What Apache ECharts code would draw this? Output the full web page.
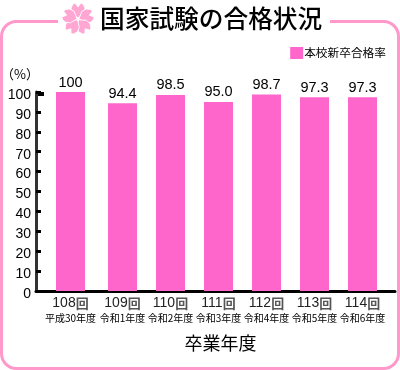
<!DOCTYPE html>
<html>
<head>
<meta charset="utf-8">
<script src="https://cdn.jsdelivr.net/npm/echarts@6/dist/echarts.min.js"></script>
<style>
html, body { margin: 0; padding: 0; background: #fff; }
#main { width: 400px; height: 370px; }
</style>
</head>
<body>
<div id="main"></div>
<script>
var years = [108, 109, 110, 111, 112, 113, 114];
var eraLabels = ['平成30年度', '令和1年度', '令和2年度', '令和3年度', '令和4年度', '令和5年度', '令和6年度'];
var passRates = [100, 94.4, 98.5, 95.0, 98.7, 97.3, 97.3];
var rateLabels = ['100', '94.4', '98.5', '95.0', '98.7', '97.3', '97.3'];
var yTicks = [0, 10, 20, 30, 40, 50, 60, 70, 80, 90, 100];

var PINK = '#ff66cc';
var FRAME = '#ff99cc';
var JP = '"Noto Sans CJK JP", sans-serif';
var LATIN = '"Liberation Sans", Arial, sans-serif';

// the first bar sits a little left of the even spacing in the original
var xPos = years.map(function (y, i) { return i === 0 ? y - 0.083 : y; });

// one petal of the blossom, drawn upright around 0,0
var petal = [[0, -1], [-6, -6], [-7, -11], [-5, -15], [-3, -16], [0, -12], [3, -16], [5, -15], [7, -11], [6, -6]];
var blossom = [0, 72, 144, 216, 288].map(function (deg) {
  return {
    type: 'polygon',
    x: 78, y: 19,
    rotation: -deg * Math.PI / 180,
    shape: { points: petal },
    style: { fill: '#ffa6d2', stroke: '#fff', lineWidth: 0.8 }
  };
});

var chart = echarts.init(document.getElementById('main'), null, { renderer: 'canvas' });
chart.setOption({
  animation: false,
  backgroundColor: '#fff',
  title: {
    text: '国家試験の合格状況',
    left: 95, top: 1,
    textStyle: { fontFamily: JP, fontSize: 24.7, fontWeight: 500, color: '#000' }
  },
  legend: {
    right: 14, top: 47,
    padding: 0,
    itemWidth: 13, itemHeight: 12, itemGap: 2,
    icon: 'rect',
    data: ['本校新卒合格率'],
    textStyle: { fontFamily: JP, fontSize: 11.7, color: '#000', padding: [0, 0, 0, -4] }
  },
  grid: { left: 36, right: 5, top: 92, bottom: 79 },
  xAxis: {
    type: 'value',
    min: 107.198,
    max: 114.677,
    splitLine: { show: false },
    axisLine: { show: true, onZero: false, lineStyle: { color: '#000', width: 3 } },
    axisTick: { show: false },
    axisLabel: {
      customValues: xPos,
      margin: 5,
      hideOverlap: false,
      formatter: function (v) {
        var i = xPos.indexOf(v);
        return '{y|' + years[i] + '}{k|回}\n{e|' + eraLabels[i] + '}';
      },
      rich: {
        y: { fontFamily: LATIN, fontSize: 14, color: '#222', lineHeight: 15 },
        k: { fontFamily: JP, fontSize: 13, fontWeight: 'bold', color: '#555', lineHeight: 15 },
        e: { fontFamily: JP, fontSize: 10, color: '#000', lineHeight: 15 }
      }
    },
    name: '卒業年度',
    nameLocation: 'middle',
    nameGap: 43,
    nameTextStyle: { fontFamily: JP, fontSize: 18, color: '#000', padding: [0, 0, 0, 10] }
  },
  yAxis: {
    type: 'value',
    min: 0,
    max: 100,
    interval: 10,
    splitLine: { show: false },
    axisLine: { show: true, onZero: false, lineStyle: { color: '#333', width: 3 } },
    axisTick: { show: true, inside: true, length: 5, lineStyle: { color: '#000', width: 3 } },
    axisLabel: {
      margin: 5,
      fontFamily: LATIN,
      fontSize: 14,
      color: '#000',
      verticalAlign: 'top',
      lineHeight: 6,
      formatter: function (v) { return yTicks.indexOf(v) >= 0 ? String(v) : ''; }
    }
  },
  series: [{
    name: '本校新卒合格率',
    type: 'bar',
    barWidth: 29,
    itemStyle: { color: PINK },
    label: {
      show: true,
      position: 'top',
      distance: 2,
      fontFamily: LATIN,
      fontSize: 14.5,
      color: '#000',
      formatter: function (p) { return rateLabels[p.dataIndex]; }
    },
    data: xPos.map(function (x, i) { return [x, passRates[i]]; })
  }],
  graphic: [
    { type: 'rect', z: -1, shape: { x: 1.5, y: 21.5, width: 397, height: 347, r: 15 },
      style: { fill: '#fff', stroke: FRAME, lineWidth: 3 } },
    { type: 'rect', z: -1, shape: { x: 58, y: 15, width: 272, height: 12 }, style: { fill: '#fff' } },
    { type: 'rect', shape: { x: 36, y: 92, width: 8, height: 4 }, style: { fill: '#000' } },
    { type: 'text', x: 1, y: 68, style: { text: '（%）', fontFamily: JP, fontSize: 13, fill: '#000' } }
  ].concat(blossom)
});
</script>
</body>
</html>
